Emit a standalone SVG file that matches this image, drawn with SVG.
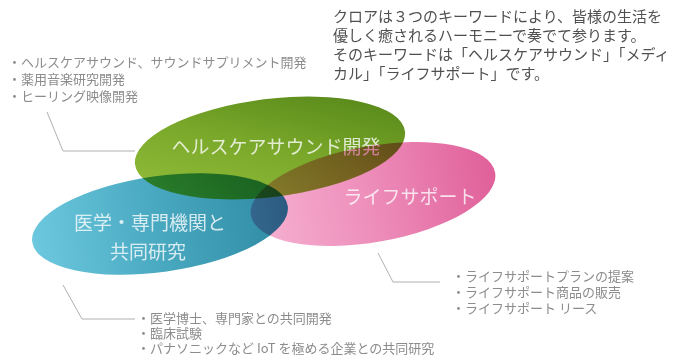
<svg xmlns="http://www.w3.org/2000/svg" width="682" height="358" viewBox="0 0 682 358">
<style>
.jp{font-family:"Noto Sans CJK JP","Noto Sans",sans-serif}
.para{font-size:15px;fill:#505050}
.list{font-size:13px;fill:#8c8c8c}
.lbl{font-size:19px;fill:#fff;fill-opacity:0.78;text-anchor:middle}
.blob{mix-blend-mode:multiply}
.conn{fill:none;stroke:#b0b0b0;stroke-width:1}
</style>
<defs>
<linearGradient id="gBlue" x1="0" y1="0.5" x2="1" y2="0.5">
<stop offset="0" stop-color="#6cc8de"/>
<stop offset="0.5" stop-color="#48a8c0"/>
<stop offset="1" stop-color="#2e8aa2"/>
</linearGradient>
<linearGradient id="gGreen" x1="0" y1="1" x2="1" y2="0">
<stop offset="0" stop-color="#98c23e"/>
<stop offset="0.5" stop-color="#7aa82a"/>
<stop offset="1" stop-color="#4f8016"/>
</linearGradient>
<linearGradient id="gPink" x1="0" y1="0.5" x2="1" y2="0.5">
<stop offset="0" stop-color="#f6b2d2"/>
<stop offset="0.45" stop-color="#ee90bc"/>
<stop offset="1" stop-color="#e0609a"/>
</linearGradient>
</defs>
<rect width="682" height="358" fill="#fff"/>

<g id="intro" class="jp para">
<text x="333" y="22">クロアは３つのキーワードにより、皆様の生活を</text>
<text x="333" y="41">優しく癒されるハーモニーで奏でて参ります。</text>
<text x="333" y="60">そのキーワードは「ヘルスケアサウンド」「メディ</text>
<text x="333" y="79">カル」「ライフサポート」です。</text>
</g>

<g id="connectors">
<polyline class="conn" points="47,112 63,151 135,151"/>
<polyline class="conn" points="378,253 393,282 440,282"/>
<polyline class="conn" points="63,285 82,319 135,319"/>
</g>

<g id="node-medical">
<ellipse class="blob" cx="160" cy="224" rx="129" ry="48" transform="rotate(-8 160 224)" fill="url(#gBlue)"/>
<text class="jp lbl" x="150" y="230">医学・専門機関と</text>
<text class="jp lbl" x="148" y="259">共同研究</text>
</g>

<g id="node-healthcare">
<ellipse class="blob" cx="270" cy="148" rx="136" ry="49" transform="rotate(-7 270 148)" fill="url(#gGreen)"/>
<text class="jp lbl" x="276" y="154">ヘルスケアサウンド開発</text>
</g>

<g id="node-lifesupport">
<ellipse class="blob" cx="373" cy="194" rx="124" ry="48" transform="rotate(-10 373 194)" fill="url(#gPink)"/>
<text class="jp lbl" x="410" y="204">ライフサポート</text>
</g>

<g id="list-healthcare" class="jp list">
<text x="8" y="67">・ヘルスケアサウンド、サウンドサプリメント開発</text>
<text x="8" y="84">・薬用音楽研究開発</text>
<text x="8" y="101">・ヒーリング映像開発</text>
</g>

<g id="list-lifesupport" class="jp list">
<text x="452" y="281">・ライフサポートプランの提案</text>
<text x="452" y="297">・ライフサポート商品の販売</text>
<text x="452" y="313">・ライフサポート リース</text>
</g>

<g id="list-medical" class="jp list">
<text x="137" y="323">・医学博士、専門家との共同開発</text>
<text x="137" y="338">・臨床試験</text>
<text x="137" y="353">・パナソニックなど IoT を極める企業との共同研究</text>
</g>
</svg>
